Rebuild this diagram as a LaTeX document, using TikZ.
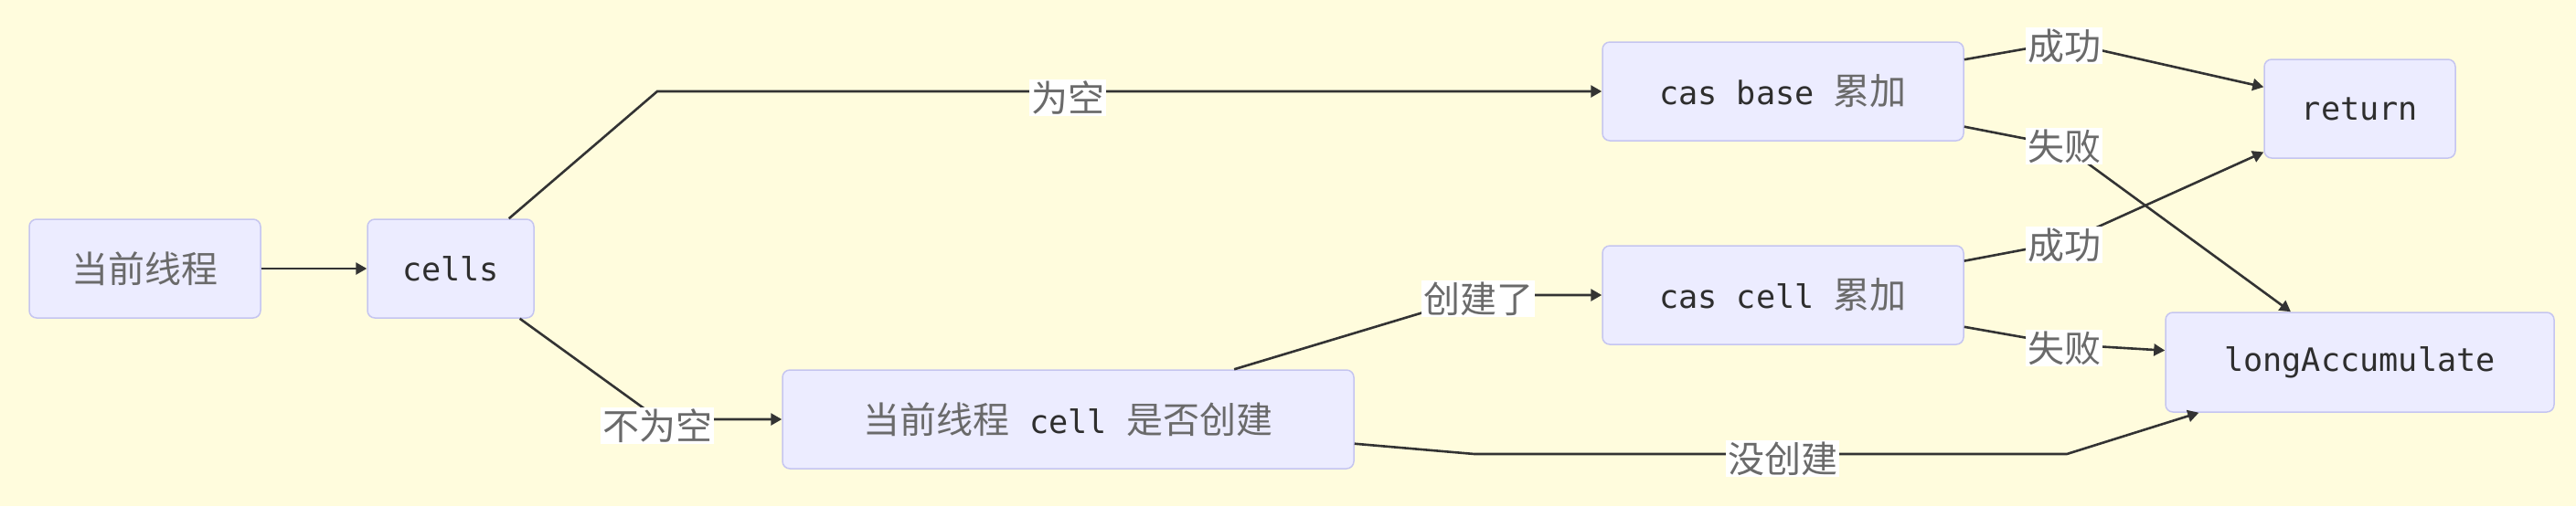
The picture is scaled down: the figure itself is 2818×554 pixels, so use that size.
\documentclass[tikz,border=0pt]{standalone}
\usepackage{fontspec}
\setmonofont{DejaVu Sans Mono}
\newfontfamily\cjk{Noto Sans CJK SC}
\usetikzlibrary{arrows.meta}
\definecolor{bgc}{HTML}{FFFCDD}
\definecolor{nfill}{HTML}{ECECFF}
\definecolor{nline}{HTML}{C5C5F0}
\definecolor{txt}{HTML}{2E2E2E}
\definecolor{zhc}{HTML}{6A6A6A}
\definecolor{edgec}{HTML}{333333}
\newcommand\zh[1]{{\cjk\fontsize{20pt}{24pt}\selectfont\color{zhc}#1}}
\newcommand\cd[1]{{\ttfamily\fontsize{17.6pt}{22pt}\selectfont\color{txt}#1}}
\newcommand\lw[1]{\raisebox{-3pt}{#1}}
\begin{document}
\begin{tikzpicture}[x=0.5pt,y=-0.5pt,
  box/.style={draw=nline, fill=nfill, line width=0.75pt, rounded corners=4pt,
    inner sep=0pt, minimum height=54pt},
  edge/.style={draw=edgec, line width=1.3pt, -{Triangle[length=6pt,width=6.5pt]}},
  lbl/.style={fill=white, inner xsep=1pt, inner ysep=0pt, minimum height=20pt}]
\useasboundingbox (0,0) rectangle (2818,554);
\fill[bgc] (0,0) rectangle (2818,554);

% nodes
\node[box, minimum width=126.5pt] (A) at (158.5,294) {\lw{\zh{当前线程}}};
\node[box, minimum width=91pt] (B) at (493,294) {\lw{\cd{cells}}};
\node[box, minimum width=197.5pt] (C) at (1950.5,100) {\lw{\cd{cas~base~}\zh{累加}}};
\node[box, minimum width=312.5pt] (D) at (1168.5,459) {\lw{\zh{当前线程}\cd{~cell~}\zh{是否创建}}};
\node[box, minimum width=197.5pt] (E) at (1950.5,323) {\lw{\cd{cas~cell~}\zh{累加}}};
\node[box, minimum width=104.5pt] (F) at (2581.5,119) {\lw{\cd{return}}};
\node[box, minimum width=212.5pt, minimum height=54.5pt] (G) at (2581.5,396.5) {\lw{\cd{longAccumulate}}};

% bend points
\coordinate (k1) at (719,100);
\coordinate (k2) at (721,459);
\coordinate (k3) at (1620,323);
\coordinate (k4) at (1613,497);
\coordinate (k5) at (2261,497);
\coordinate (k6) at (2258,46);
\coordinate (k7) at (2258,160);
\coordinate (k8) at (2258,265);
\coordinate (k9) at (2258,377);

% edges
\draw[edge] (A) -- (B);
\draw[edge] (B) -- (k1) -- (C);
\draw[edge] (B) -- (k2) -- (D);
\draw[edge] (D) -- (k3) -- (E);
\draw[edge] (D) -- (k4) -- (k5) -- (G);
\draw[edge] (C) -- (k6) -- (F);
\draw[edge] (C) -- (k7) -- (G);
\draw[edge] (E) -- (k8) -- (F);
\draw[edge] (E) -- (k9) -- (G);

% labels
\node[lbl] (l1) at (1168,107) {\zh{为空}};
\node[lbl] (l2) at (719,466) {\zh{不为空}};
\node[lbl] (l3) at (1617,327) {\zh{创建了}};
\node[lbl] (l4) at (1950,502) {\zh{没创建}};
\node[lbl] (l5) at (2258,50) {\zh{成功}};
\node[lbl] (l6) at (2258,160) {\zh{失败}};
\node[lbl] (l7) at (2258,268) {\zh{成功}};
\node[lbl] (l8) at (2258,381) {\zh{失败}};
\end{tikzpicture}
\end{document}
